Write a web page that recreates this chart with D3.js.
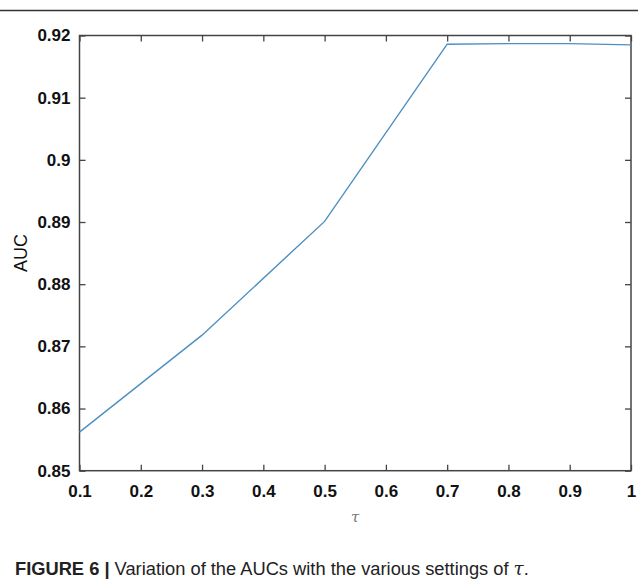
<!DOCTYPE html>
<meta charset="utf-8">
<style>
  body { margin: 0; background: #fff; }
  .tick text { font-family: "Liberation Sans", Arial, sans-serif; font-weight: bold; font-size: 17px; fill: #111; }
  .axis .domain { display: none; }
  .axis .tick line { stroke: #444; stroke-width: 1.3; }
</style>

<body>
  <script src="https://d3js.org/d3.v7.min.js"></script>
  <script>
    // tau settings and AUC
    var tau = [0.1, 0.3, 0.5, 0.7, 0.8, 0.9, 1.0];
    var auc = [0.8562, 0.8718, 0.8901, 0.9186, 0.9187, 0.9187, 0.9185];

    var xTicks = [0.1, 0.2, 0.3, 0.4, 0.5, 0.6, 0.7, 0.8, 0.9, 1];
    var xTickLabels = ["0.1", "0.2", "0.3", "0.4", "0.5", "0.6", "0.7", "0.8", "0.9", "1"];
    var yTicks = [0.85, 0.86, 0.87, 0.88, 0.89, 0.9, 0.91, 0.92];
    var yTickLabels = ["0.85", "0.86", "0.87", "0.88", "0.89", "0.9", "0.91", "0.92"];

    var W = 638, H = 585;
    var pLeft = 79.5, pRight = 631, pTop = 35.5, pBottom = 470.7;

    var x = d3.scaleLinear().domain([0.1, 1]).range([pLeft, pRight]);
    var y = d3.scaleLinear().domain([0.85, 0.92]).range([pBottom, pTop]);

    var svg = d3.select("body").append("svg")
      .attr("width", W)
      .attr("height", H);

    // rule at the top of the page
    svg.append("line")
      .attr("x1", 0).attr("x2", W)
      .attr("y1", 10.5).attr("y2", 10.5)
      .style("stroke", "#333")
      .style("stroke-width", 1.5);

    // bottom + top axes
    svg.append("g")
      .attr("class", "axis")
      .attr("transform", "translate(0," + pBottom + ")")
      .call(d3.axisBottom(x).tickValues(xTicks)
        .tickFormat(function (d, i) { return xTickLabels[i]; })
        .tickSizeInner(-6).tickSizeOuter(0).tickPadding(14));

    svg.append("g")
      .attr("class", "axis")
      .attr("transform", "translate(0," + pTop + ")")
      .call(d3.axisTop(x).tickValues(xTicks)
        .tickFormat("").tickSizeInner(-6).tickSizeOuter(0));

    // left + right axes
    svg.append("g")
      .attr("class", "axis")
      .attr("transform", "translate(" + pLeft + ",0)")
      .call(d3.axisLeft(y).tickValues(yTicks)
        .tickFormat(function (d, i) { return yTickLabels[i]; })
        .tickSizeInner(-6).tickSizeOuter(0).tickPadding(9));

    svg.append("g")
      .attr("class", "axis")
      .attr("transform", "translate(" + pRight + ",0)")
      .call(d3.axisRight(y).tickValues(yTicks)
        .tickFormat("").tickSizeInner(-6).tickSizeOuter(0));

    // frame
    svg.append("rect")
      .attr("x", pLeft).attr("y", pTop)
      .attr("width", pRight - pLeft).attr("height", pBottom - pTop)
      .style("fill", "none")
      .style("stroke", "#444")
      .style("stroke-width", 1.5);

    // the curve
    var pts = tau.map(function (t, i) { return [t, auc[i]]; });
    svg.append("path")
      .datum(pts)
      .attr("d", d3.line()
        .x(function (d) { return x(d[0]); })
        .y(function (d) { return y(d[1]); }))
      .style("fill", "none")
      .style("stroke", "#4f8fbf")
      .style("stroke-width", 1.4);

    // axis titles
    svg.append("text")
      .attr("transform", "translate(27," + ((pTop + pBottom) / 2) + ") rotate(-90)")
      .attr("text-anchor", "middle")
      .style("font-family", "Liberation Sans, Arial, sans-serif")
      .style("font-size", "18px")
      .style("fill", "#111")
      .text("AUC");

    svg.append("text")
      .attr("x", (pLeft + pRight) / 2)
      .attr("y", 522)
      .attr("text-anchor", "middle")
      .style("font-family", "DejaVu Serif, serif")
      .style("font-style", "italic")
      .style("font-size", "15px")
      .style("fill", "#777")
      .text("τ");

    // caption
    var cap = svg.append("text")
      .attr("x", 15)
      .attr("y", 575)
      .style("font-family", "Liberation Sans, Arial, sans-serif")
      .style("font-size", "18.3px")
      .style("fill", "#222");
    cap.append("tspan").style("font-weight", "bold").text("FIGURE 6 | ");
    cap.append("tspan").text("Variation of the AUCs with the various settings of ");
    cap.append("tspan").style("font-family", "DejaVu Serif, serif").style("font-style", "italic").text("τ");
    cap.append("tspan").text(".");
  </script>
</body>
